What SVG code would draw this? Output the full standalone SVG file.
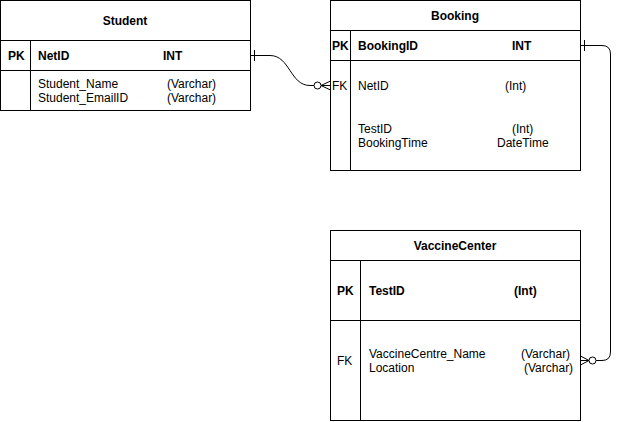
<svg xmlns="http://www.w3.org/2000/svg" width="621" height="422" viewBox="0 0 621 422">
<style>
.box{fill:#fff;stroke:#000;stroke-width:1}
.ln{fill:none;stroke:#000;stroke-width:1}
text{font-family:"Liberation Sans",Arial,Helvetica,sans-serif;font-size:12px;fill:#000}
.b{font-weight:bold}
.c{text-anchor:middle}
</style>
<rect width="621" height="422" fill="#fff"/>
<g id="Student">
<rect class="box" x="0.5" y="0.5" width="250" height="110"/>
<path class="ln" d="M0.5,40.5H250.5M0.5,70.5H250.5M30.5,40.5V110.5"/>
<text class="b c" x="125" y="25">Student</text>
<text class="b" x="8" y="60">PK</text>
<text class="b" x="38" y="60">NetID</text>
<text class="b" x="163" y="60">INT</text>
<text x="38" y="88">Student_Name</text>
<text x="167" y="88">(Varchar)</text>
<text x="38" y="102">Student_EmailID</text>
<text x="167" y="102">(Varchar)</text>
</g>
<g id="Booking">
<rect class="box" x="330.5" y="0.5" width="250" height="170"/>
<path class="ln" d="M330.5,30.5H580.5M330.5,60.5H580.5M350.5,30.5V170.5"/>
<text class="b c" x="455" y="20">Booking</text>
<text class="b" x="332" y="50">PK</text>
<text class="b" x="358" y="50">BookingID</text>
<text class="b" x="512" y="50">INT</text>
<text x="332" y="90">FK</text>
<text x="358" y="90">NetID</text>
<text x="505" y="90">(Int)</text>
<text x="358" y="133">TestID</text>
<text x="512" y="133">(Int)</text>
<text x="358" y="147">BookingTime</text>
<text x="497" y="147">DateTime</text>
</g>
<g id="VaccineCenter">
<rect class="box" x="330.5" y="230.5" width="250" height="190"/>
<path class="ln" d="M330.5,260.5H580.5M330.5,320.5H580.5M360.5,260.5V420.5"/>
<text class="b c" x="455" y="250">VaccineCenter</text>
<text class="b" x="337" y="295">PK</text>
<text class="b" x="369" y="295">TestID</text>
<text class="b" x="514" y="295">(Int)</text>
<text x="337" y="365">FK</text>
<text x="369" y="358">VaccineCentre_Name</text>
<text x="521" y="358">(Varchar)</text>
<text x="369" y="372">Location</text>
<text x="524" y="372">(Varchar)</text>
</g>
<g id="connectors">
<path class="ln" d="M250.5,55.5H270 C290,55.5 290,85.5 310,85.5H314"/>
<path class="ln" d="M254.5,50V61"/>
<circle class="ln" cx="317.5" cy="85.5" r="3.5" fill="#fff"/>
<path class="ln" d="M321,85.5L330.5,81M321,85.5H330.5M321,85.5L330.5,90"/>
<path class="ln" d="M580.5,45.5H602 Q610.5,45.5 610.5,54V352 Q610.5,360.5 602,360.5H596"/>
<path class="ln" d="M584.5,40V51"/>
<circle class="ln" cx="592.5" cy="360.5" r="3.5" fill="#fff"/>
<path class="ln" d="M589,360.5L580.5,356M589,360.5H580.5M589,360.5L580.5,365"/>
</g>
</svg>
